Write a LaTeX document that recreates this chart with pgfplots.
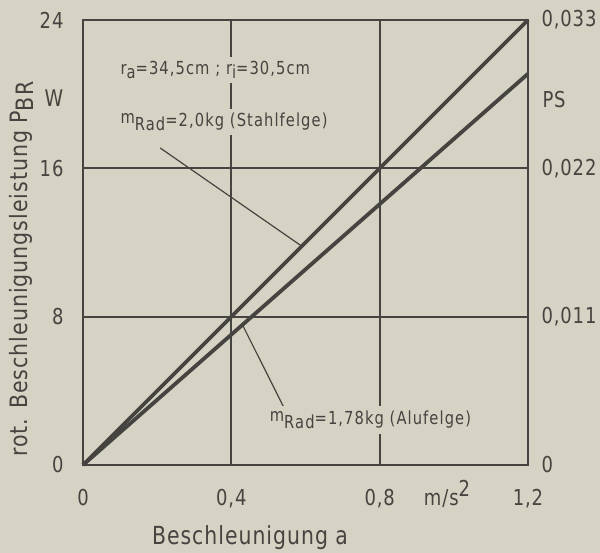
\documentclass[border=0pt]{standalone}
\usepackage{pgfplots}
\pgfplotsset{compat=1.18}
\usepackage{fontspec}
\setmainfont{DejaVu Sans}[LetterSpace=4, FakeStretch=0.82]
\newfontfamily\labfont{DejaVu Sans}[LetterSpace=4, FakeStretch=0.86]
\newfontfamily\annfont{DejaVu Sans}[LetterSpace=6, FakeStretch=0.82]
\definecolor{bg}{RGB}{214,210,196}
\definecolor{ink}{RGB}{70,68,64}
\newcommand{\sub}[1]{\raisebox{-0.45ex}{#1}}
\begin{document}
\begin{tikzpicture}
\useasboundingbox[fill=bg] (-83bp,-88bp) rectangle (517bp,465bp);
\begin{axis}[
 scale only axis, width=445bp, height=445bp,
 xmin=0,xmax=1.2,ymin=0,ymax=24,
 xtick={0,0.4,0.8,1.2}, xticklabels={0,{0,4},{0,8},{1,2}},
 ytick={0,8,16,24}, yticklabels={0,8,16,24},
 grid=major, grid style={ink, line width=1.8bp},
 axis line style={ink, line width=1.8bp},
 major tick length=0,
 tick label style={ink, font=\fontsize{22}{24}\selectfont},
 xticklabel style={anchor=base, yshift=-40bp},
 yticklabel style={anchor=east, xshift=-16bp},
 clip=false,
]
\addplot[ink, line width=3.8bp] coordinates {(0,0) (1.2,24)};
\addplot[ink, line width=3.8bp] coordinates {(0,0) (1.2,21.1)};
\draw[ink, line width=1.2bp] (axis cs:0.208,17.1) -- (axis cs:0.59,11.8);
\draw[ink, line width=1.2bp] (axis cs:0.43,7.56) -- (axis cs:0.545,2.97);
\node[anchor=west, fill=bg, inner sep=4bp, text=ink, font=\annfont\fontsize{18}{20}\selectfont] at (axis cs:0.09,21.3) {r\sub{a}=34,5cm ; r\sub{i}=30,5cm};
\node[anchor=west, fill=bg, inner sep=4bp, text=ink, font=\annfont\fontsize{18}{20}\selectfont] at (axis cs:0.09,18.5) {\raisebox{0.3ex}{m}\sub{Rad}=2,0kg (Stahlfelge)};
\node[anchor=west, fill=bg, inner sep=5bp, text=ink, font=\annfont\fontsize{18}{20}\selectfont] at (axis cs:0.49,2.43) {\raisebox{0.3ex}{m}\sub{Rad}=1,78kg (Alufelge)};
\end{axis}
\begin{axis}[
 scale only axis, width=445bp, height=445bp,
 xmin=0,xmax=1.2,ymin=0,ymax=0.033,
 axis x line=none, axis y line*=right,
 scaled y ticks=false,
 ytick={0,0.011,0.022,0.033}, yticklabels={0,{0,011},{0,022},{0,033}},
 axis line style={ink, line width=1.8bp},
 major tick length=0,
 tick label style={ink, font=\fontsize{22}{24}\selectfont},
 yticklabel style={anchor=west, xshift=10bp},
]
\end{axis}
\node[text=ink, font=\fontsize{22}{24}\selectfont, anchor=base] at (364bp,-40bp) {m/s\raisebox{0.7ex}{2}};
\node[text=ink, font=\fontsize{25}{28}\selectfont] at (167bp,-73bp) {Beschleunigung a};
\node[text=ink, font=\labfont\fontsize{24}{27}\selectfont, rotate=90, anchor=base west, inner sep=0pt] at (-55bp,8bp) {rot. Beschleunigungsleistung P\sub{BR}};
\node[text=ink, font=\fontsize{23}{26}\selectfont] at (-29bp,367bp) {W};
\node[text=ink, font=\fontsize{22}{24}\selectfont, anchor=west] at (456bp,365bp) {PS};
\end{tikzpicture}
\end{document}
